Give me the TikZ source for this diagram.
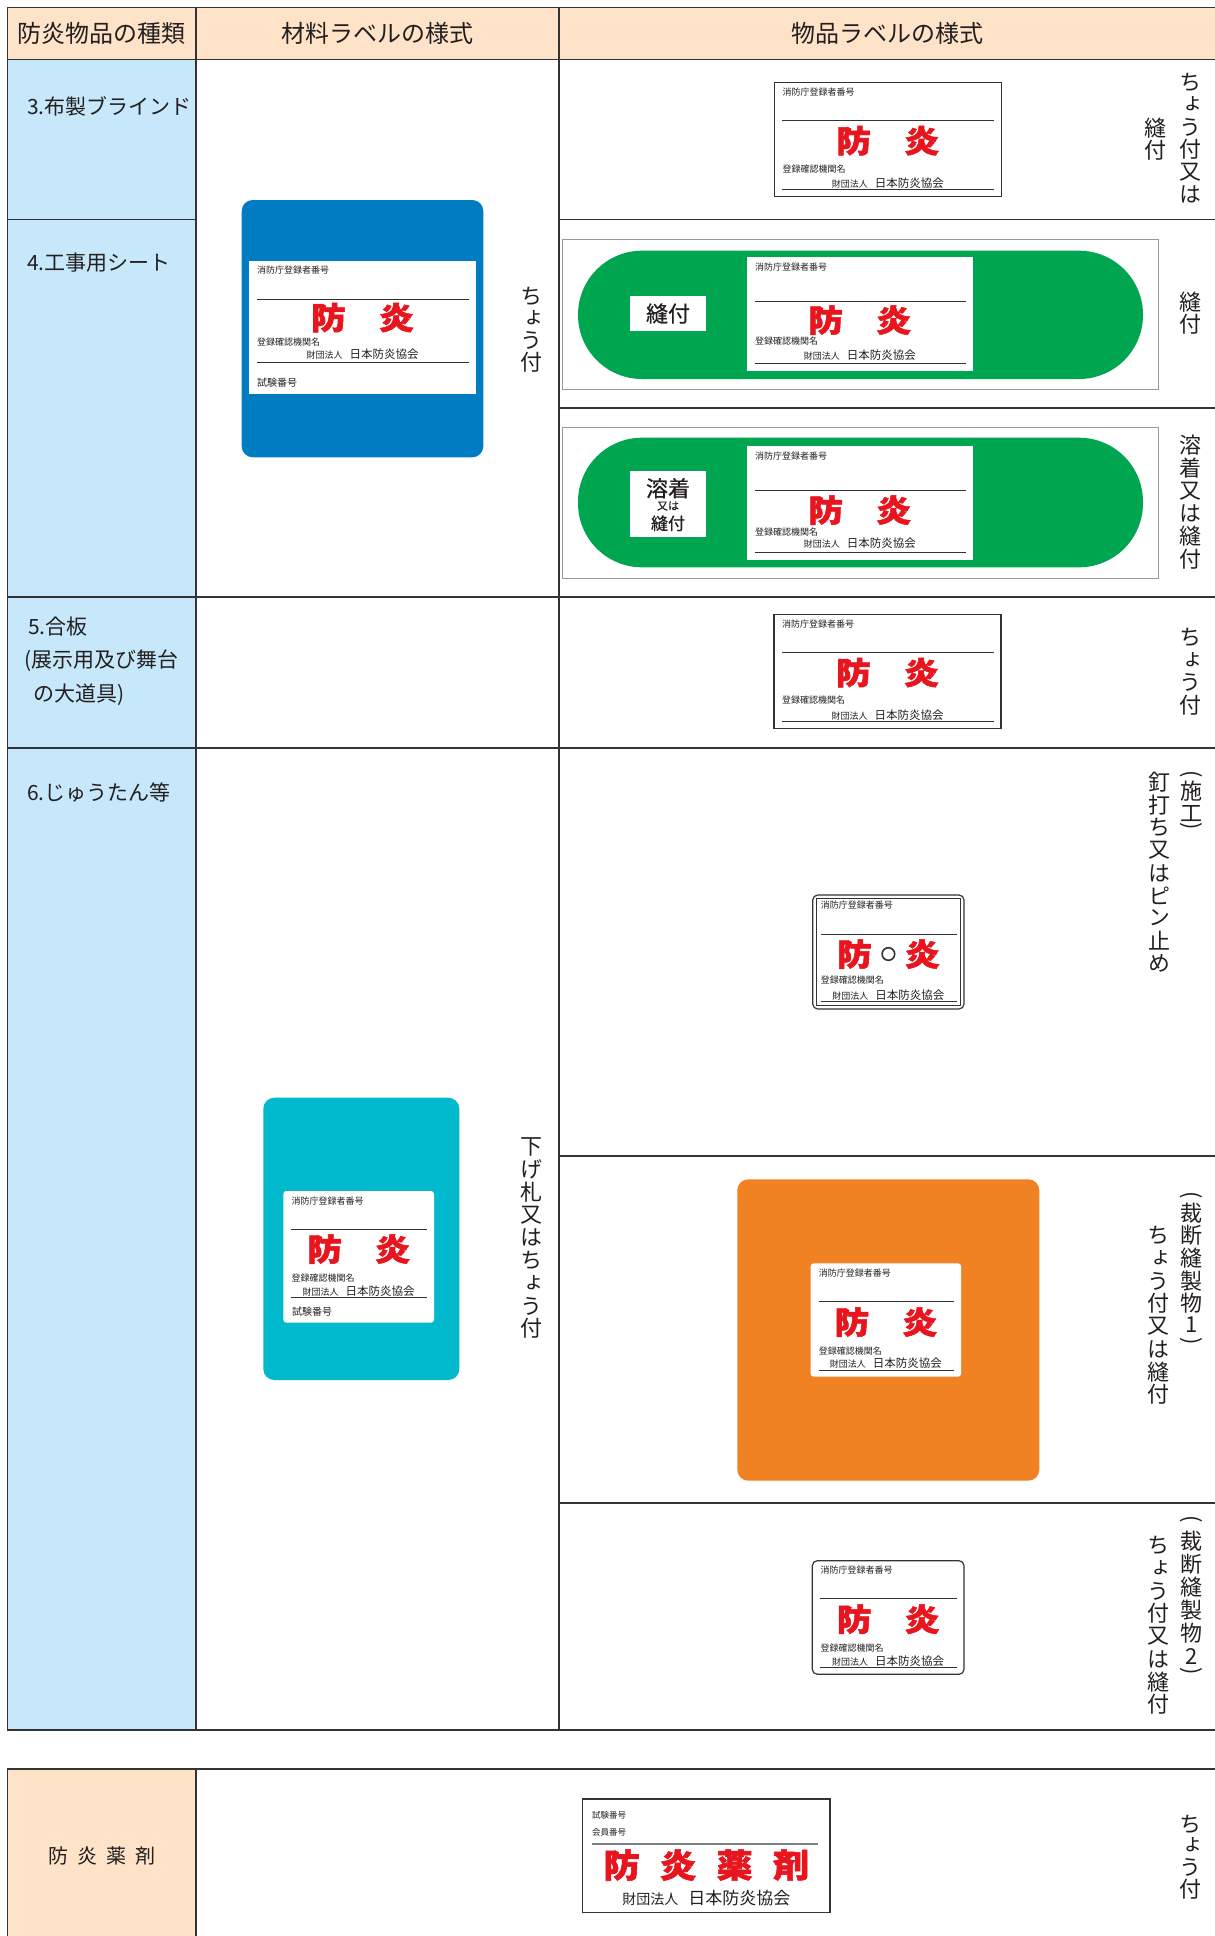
\documentclass[tikz,border=0pt]{standalone}
\usepackage{fontspec}
\usepackage{graphicx}
\setmainfont{Noto Sans CJK JP}
\newfontfamily\jpv[RawFeature={+vert}]{Noto Sans CJK JP}
\newfontfamily\heavy[BoldFeatures={FakeBold=1.6}]{Noto Sans CJK JP}
\newfontfamily\medium[FakeBold=0.6]{Noto Sans CJK JP}
\definecolor{hdrC}{HTML}{FEE3C8}
\definecolor{colA}{HTML}{C7E8FA}
\definecolor{lineC}{HTML}{333333}
\definecolor{txt}{HTML}{231F20}
\definecolor{fbred}{HTML}{E8141E}
\definecolor{blueC}{HTML}{007CC3}
\definecolor{greenC}{HTML}{00A550}
\definecolor{cyanC}{HTML}{00B9CD}
\definecolor{orangeC}{HTML}{F08223}
\newcommand\jfs[1]{\fontsize{#1}{#1}\selectfont}
\tikzset{
  tline/.style={draw=lineC, line width=1.8pt},
  lline/.style={draw=lineC, line width=1pt},
  lbox/.style={draw=lineC, line width=1.2pt, fill=white},
  lt/.style={anchor=west, inner sep=0pt, text=txt},
  lab/.style={inner sep=0pt, text=txt},
  bou/.style={inner sep=0pt, text=fbred, font=\heavy\bfseries\jfs{31}},
  vch/.style={inner sep=0pt, text=txt, font=\jpv\jfs{22}},
  lefttxt/.style={anchor=west, inner sep=0pt, text=txt, font=\jfs{21}},
  hdrtxt/.style={inner sep=0pt, text=txt, font=\jfs{24}},
}
% label interior: #1 name, #2 L, #3 T, #4 W, #5 line1, #6 boy, #7 kikan, #8 zaidan, #9 line2
\newcommand\flab[9]{%
\begin{scope}[shift={(#2,#3)}]
  \node[lt,font=\jfs{9}] (#1a) at (8,9.8) {消防庁登録者番号};
  \draw[lline] (8,#5) -- (#4-7,#5);
  \node[bou] (#1b) at (#4/2-34,#6) {\scalebox{1.12}[1]{防}};
  \node[bou] (#1c) at (#4/2+34,#6) {\scalebox{1.12}[1]{炎}};
  \node[lt,font=\jfs{9}] (#1d) at (8,#7) {登録確認機関名};
  \node[lab] (#1e) at (#4/2,#8) {{\jfs{9}財団法人}\hspace{7pt}{\jfs{11.5}日本防炎協会}};
  \draw[lline] (8,#9) -- (#4-7,#9);
\end{scope}}
% vertical text: #1 x, #2 first centre y, #3 pitch, #4 list
\newcommand\vt[4]{\foreach \c [count=\i from 0] in {#4} {\node[vch] at (#1,#2+\i*#3) {\c};}}
\newcommand\vopen{\rotatebox[origin=c]{-90}{(}}
\newcommand\vclose{\rotatebox[origin=c]{-90}{)}}
\begin{document}
\begin{tikzpicture}[x=1pt,y=-1pt]
\useasboundingbox (0,0) rectangle (1215,1936);
% fills
\fill[hdrC] (7.4,7.4) rectangle (1215,59.5);
\fill[colA] (7.4,59.5) rectangle (196,1730);
\fill[hdrC] (7.4,1768.7) rectangle (196,1936);
% grid
\draw[tline] (7.4,7.4) -- (1215,7.4);
\draw[tline] (7.4,59.5) -- (1215,59.5);
\draw[tline] (7.4,219.5) -- (196,219.5);
\draw[tline] (559,219.5) -- (1215,219.5);
\draw[tline] (559,408) -- (1215,408);
\draw[tline] (7.4,597) -- (1215,597);
\draw[tline] (7.4,747.8) -- (1215,747.8);
\draw[tline] (559,1156) -- (1215,1156);
\draw[tline] (559,1503) -- (1215,1503);
\draw[tline] (7.4,1730) -- (1215,1730);
\draw[tline] (7.4,7.4) -- (7.4,1730);
\draw[tline] (196,7.4) -- (196,1730);
\draw[tline] (559,7.4) -- (559,1730);
\draw[tline] (7.4,1768.7) -- (1215,1768.7);
\draw[tline] (7.4,1768.7) -- (7.4,1936);
\draw[tline] (196,1768.7) -- (196,1936);
% header
\node[hdrtxt] (h1) at (101.5,33.5) {防炎物品の種類};
\node[hdrtxt] (h2) at (377.5,33.5) {材料ラベルの様式};
\node[hdrtxt] (h3) at (887,33.5) {物品ラベルの様式};
% left column
\node[lefttxt] (k3) at (27,106) {3.布製ブラインド};
\node[lefttxt] (k4) at (27,263) {4.工事用シート};
\node[lefttxt] (k5a) at (28,627) {5.合板};
\node[lefttxt] (k5b) at (24,661) {(展示用及び舞台};
\node[lefttxt] (k5c) at (33,694.5) {の大道具)};
\node[lefttxt] (k6) at (27,792) {6.じゅうたん等};
\node[inner sep=0pt, text=txt, font=\jfs{20}] (k7) at (102,1856) {防\hspace{9pt}炎\hspace{9pt}薬\hspace{9pt}剤};
% blue material label
\fill[blueC, rounded corners=11pt] (241.7,200) rectangle (483.3,457.3);
\fill[white] (249,260.7) rectangle (476,394);
\flab{bl}{249}{260.7}{227}{38.3}{56.8}{81}{93.3}{101.3}
\node[lt,font=\jfs{10}] (blf) at (257,382.7) {試験番号};
\vt{531.7}{296}{22}{ち,ょ,う,付}
% row 3 label
\draw[lbox] (774.3,82.7) rectangle (1001.3,196.7);
\flab{ra}{774.3}{82.7}{227}{38}{58}{86}{100.6}{107}
\vt{1190}{82.5}{22.4}{ち,ょ,う,付,又,は}
\vt{1155}{128}{22.4}{縫,付}
% row 4a
\draw[draw=gray!80, line width=0.9pt] (562.6,239) rectangle (1158.6,389.7);
\fill[greenC, rounded corners=64pt] (578,250.7) rectangle (1143,379);
\fill[white] (630,296) rectangle (705.7,330.7);
\node[lab, font=\medium\jfs{22}] (g1t) at (668,313.5) {縫付};
\fill[white] (747,257) rectangle (972.5,370.7);
\flab{ga}{747}{257}{225.5}{44}{63}{84}{98}{106.7}
\vt{1190}{302}{22.5}{縫,付}
% row 4b
\draw[draw=gray!80, line width=0.9pt] (562.6,427.7) rectangle (1158.6,578.7);
\fill[greenC, rounded corners=64pt] (578,437.7) rectangle (1143,567.3);
\fill[white] (630,471) rectangle (705.7,536.7);
\node[lab, font=\medium\jfs{22}] (g2t1) at (668,488.3) {溶着};
\node[lab, font=\medium\jfs{11}] (g2t2) at (668,506) {又は};
\node[lab, font=\medium\jfs{17}] (g2t3) at (668,523.3) {縫付};
\fill[white] (747,446) rectangle (972.5,560);
\flab{gb}{747}{446}{225.5}{44.7}{64}{86}{97.5}{106.7}
\vt{1190}{445.5}{22.7}{溶,着,又,は,縫,付}
% row 5
\draw[lbox] (774,614.5) rectangle (1001,728.5);
\flab{rb}{774}{614.5}{227}{38}{58}{86}{100.6}{107}
\vt{1190}{637.5}{22.5}{ち,ょ,う,付}
% cyan material label
\fill[cyanC, rounded corners=11pt] (263.3,1097.7) rectangle (459.3,1380);
\fill[white, rounded corners=3pt] (283.3,1191) rectangle (434,1322.7);
\flab{cy}{283.3}{1191}{150.7}{38.3}{58}{87.3}{99.7}{106.7}
\node[lt,font=\jfs{10}] (cyf) at (292,1311.7) {試験番号};
\vt{531.7}{1147}{22.7}{下,げ,札,又,は,ち,ょ,う,付}
% row 6a
\draw[draw=lineC, line width=1.2pt, fill=white, rounded corners=5pt] (812.7,895) rectangle (964,1009);
\draw[draw=lineC, line width=0.7pt] (816.7,898.5) rectangle (960.7,1005.5);
\flab{rc}{812.7}{895}{151.3}{39}{59}{85}{100}{106}
\draw[draw=lineC, line width=1.6pt] (888.4,954) circle (6.3);
\node[vch] at (1191.7,775.5) {\vopen};
\vt{1191.7}{790.7}{22.6}{施,工}
\node[vch] at (1191.7,827.3) {\vclose};
\vt{1159}{782.5}{22.6}{釘,打,ち,又,は,ピ,ン,止,め}
% row 6b
\fill[orangeC, rounded corners=11pt] (737.3,1179.3) rectangle (1039.3,1480.7);
\fill[white, rounded corners=3pt] (810.7,1263.3) rectangle (961,1376.7);
\flab{rd}{810.7}{1263.3}{150.3}{37.7}{58.7}{87.7}{99.4}{106.7}
\node[vch] at (1191.7,1197) {\vopen};
\vt{1191.7}{1213}{22.6}{裁,断,縫,製,物}
\node[vch, font=\jfs{22}] at (1191.7,1325) {1};
\node[vch] at (1191.7,1342.5) {\vclose};
\vt{1158.3}{1235.5}{22.7}{ち,ょ,う,付,又,は,縫,付}
% row 6c
\draw[draw=lineC, line width=1.2pt, fill=white, rounded corners=5pt] (812.3,1560.7) rectangle (964,1674.3);
\flab{re}{812.3}{1560.7}{151.7}{38}{58.5}{87}{100}{106.6}
\node[vch] at (1191.7,1521) {\vopen};
\vt{1191.7}{1541}{23}{裁,断,縫,製,物}
\node[vch, font=\jfs{22}] at (1191.7,1656.5) {2};
\node[vch] at (1191.7,1672.5) {\vclose};
\vt{1158.3}{1545.5}{22.7}{ち,ょ,う,付,又,は,縫,付}
% bottom: chemicals
\draw[lbox] (582.8,1799) rectangle (830,1912.3);
\node[lt,font=\jfs{8.5}] (ya) at (592,1815) {試験番号};
\node[lt,font=\jfs{8.5}] (yb) at (592,1832.7) {会員番号};
\draw[draw=gray, line width=2.5pt] (592,1844) -- (818,1844);
\node[bou, font=\heavy\bfseries\jfs{33}] (yc1) at (621.6,1865) {\scalebox{1.1}[1]{防}};
\node[bou, font=\heavy\bfseries\jfs{33}] (yc2) at (678.1,1865) {\scalebox{1.1}[1]{炎}};
\node[bou, font=\heavy\bfseries\jfs{33}] (yc3) at (734.6,1865) {\scalebox{1.1}[1]{薬}};
\node[bou, font=\heavy\bfseries\jfs{33}] (yc4) at (791.1,1865) {\scalebox{1.1}[1]{剤}};
\node[lab] (yd) at (706.4,1897.7) {{\jfs{14}財団法人}\hspace{10pt}{\jfs{17}日本防炎協会}};
\vt{1190}{1824}{21.9}{ち,ょ,う,付}
\end{tikzpicture}
\end{document}
